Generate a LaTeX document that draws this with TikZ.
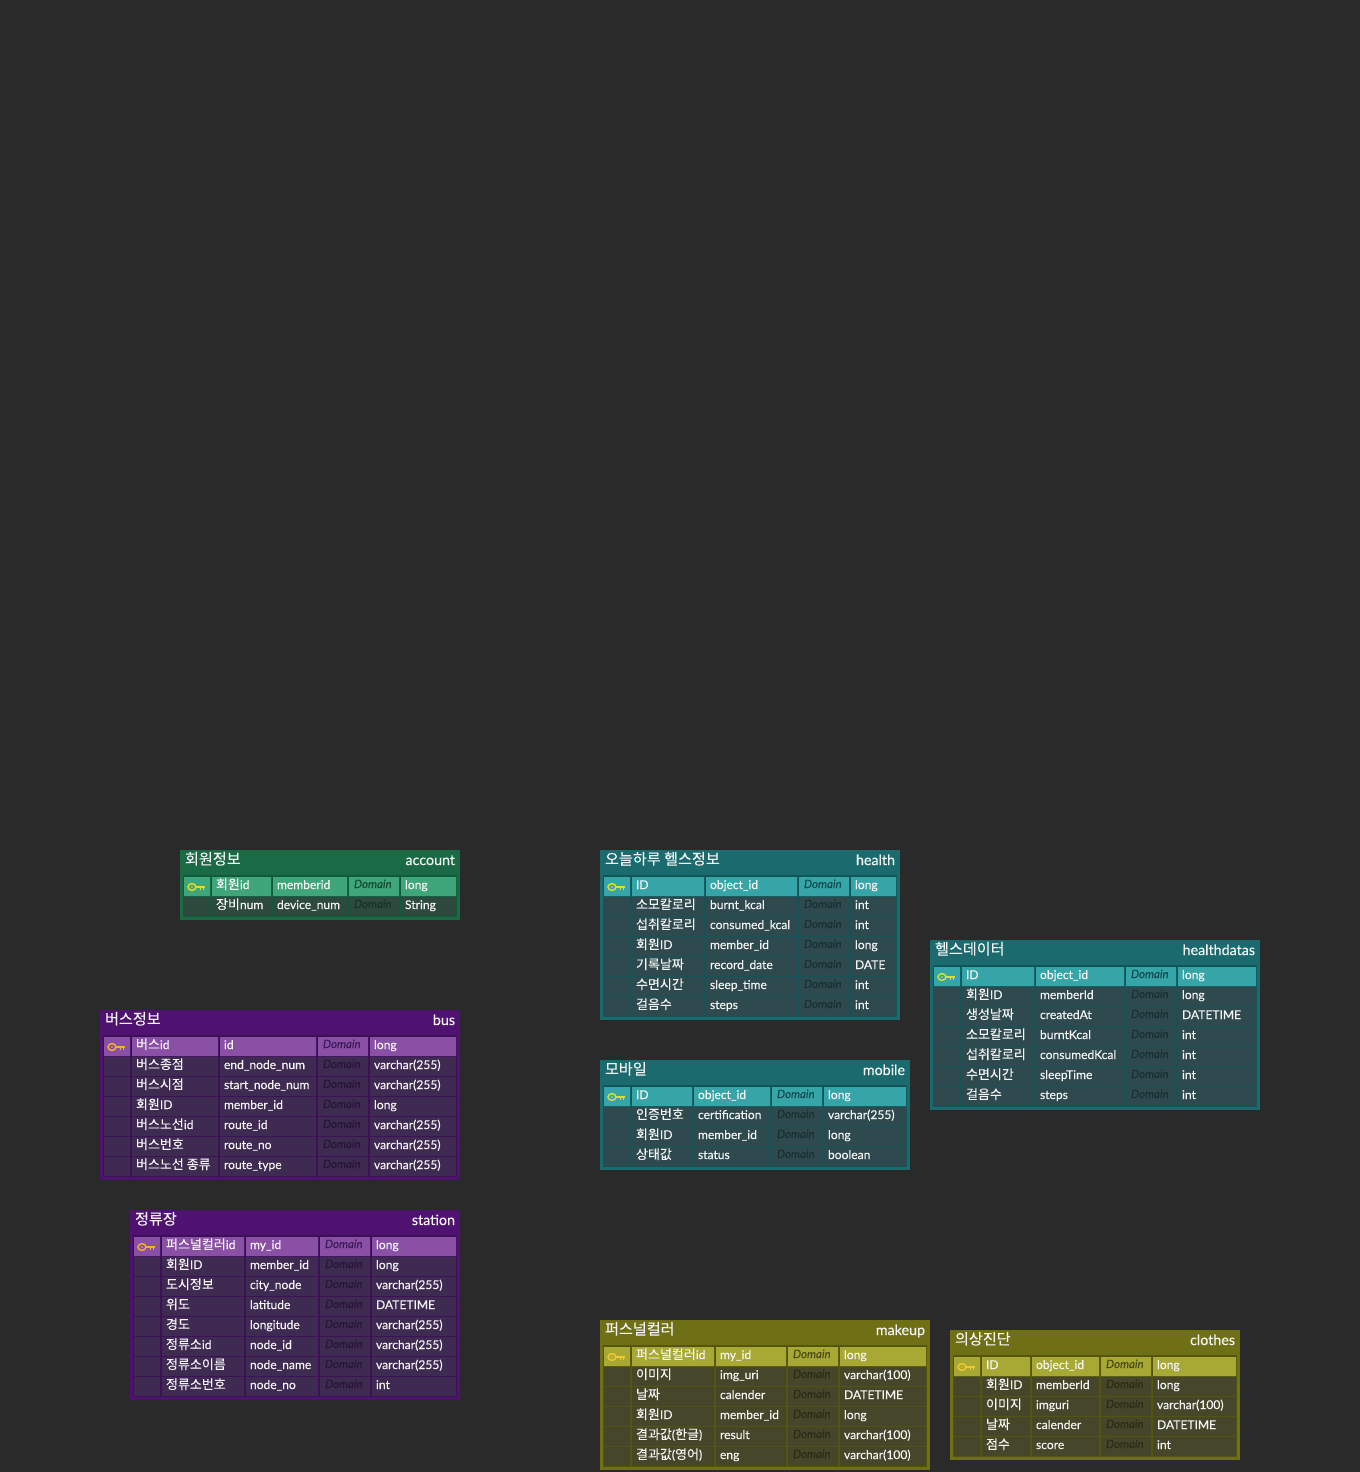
\documentclass[tikz,border=0pt]{standalone}
\usepackage{fontspec}
\setmainfont{Lato}[FakeBold=0.18]
\newfontfamily\domfont{Lato}[FakeBold=0.08]
\newfontfamily\kofont{Noto Sans CJK KR}[FakeBold=0.1]
\newfontfamily\kotitle{Noto Sans CJK KR}[FakeBold=0.1]
\newcommand{\ko}[1]{{\kofont\fontsize{9.75}{11}\selectfont #1}}
\definecolor{bgc}{HTML}{2A2A2A}
\definecolor{greentitle}{HTML}{1A6B45}\definecolor{greengap}{HTML}{0F5A38}\definecolor{greenhead}{HTML}{3FA67A}\definecolor{greenbody}{HTML}{2E4A3E}\definecolor{greendom}{HTML}{183228}\definecolor{greenkey}{HTML}{E0DC28}\definecolor{greenhdom}{HTML}{154A32}
\definecolor{purptitle}{HTML}{4F1270}\definecolor{purpgap}{HTML}{3C0F58}\definecolor{purphead}{HTML}{8A50A5}\definecolor{purpbody}{HTML}{3F2A52}\definecolor{purpdom}{HTML}{261636}\definecolor{purpkey}{HTML}{F0B030}\definecolor{purphdom}{HTML}{3A1A5A}
\definecolor{tealtitle}{HTML}{1A6A6E}\definecolor{tealgap}{HTML}{125558}\definecolor{tealhead}{HTML}{35A5A8}\definecolor{tealbody}{HTML}{2E4A4E}\definecolor{tealdom}{HTML}{183034}\definecolor{tealkey}{HTML}{D8E030}\definecolor{tealhdom}{HTML}{124A50}
\definecolor{olivtitle}{HTML}{6F6F15}\definecolor{olivgap}{HTML}{55550F}\definecolor{olivhead}{HTML}{A8A835}\definecolor{olivbody}{HTML}{46462A}\definecolor{olivdom}{HTML}{2B2B18}\definecolor{olivkey}{HTML}{F0C830}\definecolor{olivhdom}{HTML}{4A4A14}
\tikzset{
 celltext/.style={anchor=base west,inner sep=0pt,outer sep=0pt,text=white!96!black,font=\fontsize{9.05}{11}\selectfont},
 domtext/.style={anchor=base west,inner sep=0pt,outer sep=0pt,font=\domfont\fontsize{8.6}{11}\selectfont\itshape},
 titletext/.style={anchor=base west,inner sep=0pt,outer sep=0pt,text=white!96!black,font=\kotitle\fontsize{11.35}{13}\selectfont},
 entext/.style={anchor=base east,inner sep=0pt,outer sep=0pt,text=white!96!black,font=\fontsize{10.7}{12}\selectfont},
}
\makeatletter
\def\parsegeom#1,#2,#3,#4,#5,#6\relax{\def\xa{#1}\def\ya{#2}\def\xb{#3}\def\yb{#4}\def\cc{#5}\def\cd{#6}}
\newcommand{\ertable}[6]{%
 \parsegeom#3\relax
 \pgfmathsetmacro\ce{\cd+52}\pgfmathsetmacro\xe{\xb-4}
 \pgfmathsetmacro\ka{\xa+4}\pgfmathsetmacro\kb{\xa+30}\pgfmathsetmacro\cb{\xa+32}
 \pgfmathsetmacro\ti{\xa+5}\pgfmathsetmacro\tb{\ya+14.5}\pgfmathsetmacro\tc{\ya+15}\pgfmathsetmacro\te{\xb-5}
 \pgfmathsetmacro\gt{\ya+25}\pgfmathsetmacro\gb{\yb-3}\pgfmathsetmacro\gl{\xa+3}\pgfmathsetmacro\gr{\xb-3}
 \fill[#2title] (\xa,\ya) rectangle (\xb,\yb);
 \fill[#2gap] (\gl,\gt) rectangle (\gr,\gb);
 \node[titletext] (#1-title) at (\ti,\tb) {#4};
 \node[entext] (#1-en) at (\te,\tc) {#5};
 \foreach \pa/\pb/\pc [count=\i from 0] in {#6}{
  \pgfmathsetmacro\rt{\ya+27+20*\i}\pgfmathsetmacro\rb{\rt+19}\pgfmathsetmacro\bl{\rt+12}\pgfmathsetmacro\bd{\rt+11}
  \ifnum\i=0 \def\fc{#2head}\def\dc{#2hdom}\else\def\fc{#2body}\def\dc{#2dom}\fi
  \pgfmathsetmacro\ccm{\cc-2}\pgfmathsetmacro\cdm{\cd-2}\pgfmathsetmacro\cem{\ce-2}
  \fill[\fc] (\ka,\rt) rectangle (\kb,\rb) (\cb,\rt) rectangle (\ccm,\rb) (\cc,\rt) rectangle (\cdm,\rb) (\cd,\rt) rectangle (\cem,\rb) (\ce,\rt) rectangle (\xe,\rb);
  \pgfmathsetmacro\ta{\cb+4}\pgfmathsetmacro\tbb{\cc+4}\pgfmathsetmacro\tcc{\cd+5}\pgfmathsetmacro\tdd{\ce+4}
  \node[celltext] (#1-\i-a) at (\ta,\bl) {\pa};
  \node[celltext] (#1-\i-b) at (\tbb,\bl) {\pb};
  \node[domtext,text=\dc] (#1-\i-d) at (\tcc,\bd) {Domain};
  \node[celltext] (#1-\i-c) at (\tdd,\bl) {\pc};
  \ifnum\i=0
   \pgfmathsetmacro\kx{\xa+12}\pgfmathsetmacro\ky{\rt+10}\pgfmathsetmacro\ks{\xa+16}\pgfmathsetmacro\kt{\xa+24.5}
   \pgfmathsetmacro\kp{\xa+20.5}\pgfmathsetmacro\kq{\xa+23.5}\pgfmathsetmacro\kr{\ky+3.2}
   \draw[#2key,line width=1.05pt] (\kx,\ky) circle[x radius=4,y radius=3.4];
   \fill[#2key] (\kx,\ky) circle[radius=.8];
   \draw[#2key,line width=1.3pt] (\ks,\ky) -- (\kt,\ky);
   \draw[#2key,line width=1.05pt] (\kp,\ky) -- (\kp,\kr) (\kq,\ky) -- (\kq,\kr);
  \fi
 }
}
\makeatother
\begin{document}
\begin{tikzpicture}[x=0.75pt,y=-0.75pt]
\fill[bgc] (0,0) rectangle (1360,1472);
\useasboundingbox (0,0) rectangle (1360,1472);
\ertable{account}{green}{180,850,460,920,273,349}{회원정보}{account}{
 {\ko{회원}id}/memberid/long,
 {\ko{장비}num}/device\_num/String}
\ertable{bus}{purp}{100,1010,460,1180,220,318}{버스정보}{bus}{
 {\ko{버스}id}/id/long,
 {\ko{버스종점}}/end\_node\_num/varchar(255),
 {\ko{버스시점}}/start\_node\_num/varchar(255),
 {\ko{회원}ID}/member\_id/long,
 {\ko{버스노선}id}/route\_id/varchar(255),
 {\ko{버스번호}}/route\_no/varchar(255),
 {\ko{버스노선 종류}}/route\_type/varchar(255)}
\ertable{station}{purp}{130,1210,460,1400,246,320}{정류장}{station}{
 {\ko{퍼스널컬러}id}/my\_id/long,
 {\ko{회원}ID}/member\_id/long,
 {\ko{도시정보}}/city\_node/varchar(255),
 {\ko{위도}}/latitude/DATETIME,
 {\ko{경도}}/longitude/varchar(255),
 {\ko{정류소}id}/node\_id/varchar(255),
 {\ko{정류소이름}}/node\_name/varchar(255),
 {\ko{정류소번호}}/node\_no/int}
\ertable{health}{teal}{600,850,900,1020,706,799}{오늘하루 헬스정보}{health}{
 ID/object\_id/long,
 {\ko{소모칼로리}}/burnt\_kcal/int,
 {\ko{섭취칼로리}}/consumed\_kcal/int,
 {\ko{회원}ID}/member\_id/long,
 {\ko{기록날짜}}/record\_date/DATE,
 {\ko{수면시간}}/sleep\_time/int,
 {\ko{걸음수}}/steps/int}
\ertable{healthdatas}{teal}{930,940,1260,1110,1036,1126}{헬스데이터}{healthdatas}{
 ID/object\_id/long,
 {\ko{회원}ID}/memberId/long,
 {\ko{생성날짜}}/createdAt/DATETIME,
 {\ko{소모칼로리}}/burntKcal/int,
 {\ko{섭취칼로리}}/consumedKcal/int,
 {\ko{수면시간}}/sleepTime/int,
 {\ko{걸음수}}/steps/int}
\ertable{mobile}{teal}{600,1060,910,1170,694,772}{모바일}{mobile}{
 ID/object\_id/long,
 {\ko{인증번호}}/certification/varchar(255),
 {\ko{회원}ID}/member\_id/long,
 {\ko{상태값}}/status/boolean}
\ertable{makeup}{oliv}{600,1320,930,1470,716,788}{퍼스널컬러}{makeup}{
 {\ko{퍼스널컬러}id}/my\_id/long,
 {\ko{이미지}}/img\_uri/varchar(100),
 {\ko{날짜}}/calender/DATETIME,
 {\ko{회원}ID}/member\_id/long,
 {\ko{결과값}(\ko{한글})}/result/varchar(100),
 {\ko{결과값}(\ko{영어})}/eng/varchar(100)}
\ertable{clothes}{oliv}{950,1330,1240,1460,1032,1101}{의상진단}{clothes}{
 ID/object\_id/long,
 {\ko{회원}ID}/memberId/long,
 {\ko{이미지}}/imguri/varchar(100),
 {\ko{날짜}}/calender/DATETIME,
 {\ko{점수}}/score/int}
\end{tikzpicture}
\end{document}
